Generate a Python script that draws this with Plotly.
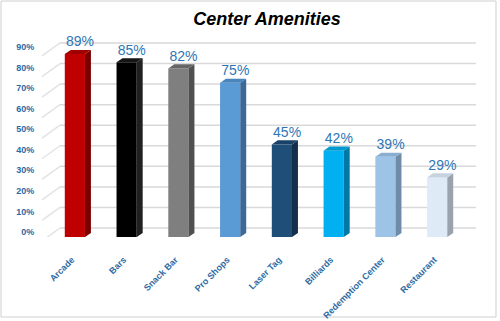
import plotly.graph_objects as go

categories = ["Arcade", "Bars", "Snack Bar", "Pro Shops", "Laser Tag", "Billiards",
              "Redemption Center", "Restaurant"]
values = [0.89, 0.85, 0.82, 0.75, 0.45, 0.42, 0.39, 0.29]
labels = ["89%", "85%", "82%", "75%", "45%", "42%", "39%", "29%"]
front_colors = ["#C00000", "#000000", "#7F7F7F", "#5B9BD5", "#1F4E79", "#00B0F0", "#9DC3E6", "#DEEBF7"]
side_colors = ["#7A0000", "#202020", "#505050", "#3B6A98", "#132F4C", "#0079A6", "#6E8CA8", "#9AA3AD"]
top_colors = ["#A00000", "#151515", "#666666", "#4A84BC", "#1A4268", "#0099D0", "#8AAED0", "#C5D3E0"]
y_ticks = [0, 0.1, 0.2, 0.3, 0.4, 0.5, 0.6, 0.7, 0.8, 0.9]
y_tick_text = ["0%", "10%", "20%", "30%", "40%", "50%", "60%", "70%", "80%", "90%"]

W, H = 500, 321
ML, MR, MT, MB = 49, 24, 40, 84
bar_w = 0.39
dx = 0.115
dy = 0.02
label_blue = "#2E75B6"
axis_blue = "#2C6AA3"

x = list(range(len(categories)))
fig = go.Figure()
fig.add_trace(go.Bar(x=x, y=values, width=bar_w, marker=dict(color=front_colors, line=dict(width=0)),
                     hoverinfo="skip", showlegend=False))

for i, v in enumerate(values):
    r = i + bar_w / 2
    l = i - bar_w / 2
    # side face
    fig.add_trace(go.Scatter(x=[r, r + dx, r + dx, r, r], y=[0, dy, v + dy, v, 0],
                             mode="lines", fill="toself", fillcolor=side_colors[i],
                             line=dict(width=0, color=side_colors[i]), hoverinfo="skip", showlegend=False))
    # top face
    fig.add_trace(go.Scatter(x=[l, r, r + dx, l + dx, l], y=[v, v, v + dy, v + dy, v],
                             mode="lines", fill="toself", fillcolor=top_colors[i],
                             line=dict(width=0, color=top_colors[i]), hoverinfo="skip", showlegend=False))

fig.add_trace(go.Scatter(x=[i + 0.1 for i in x], y=[v + dy for v in values], mode="text",
                         text=labels, textposition="top center",
                         textfont=dict(size=14, color=label_blue, family="Liberation Sans, Arial"),
                         hoverinfo="skip", showlegend=False, cliponaxis=False))

plot_w = W - ML - MR
plot_h = H - MT - MB
shapes = []
grid_x0 = (60 - ML) / plot_w
for t in y_ticks:
    shapes.append(dict(type="line", xref="paper", yref="y", ysizemode="pixel", yanchor=t,
                       x0=grid_x0, x1=1, y0=9, y1=9, line=dict(color="#D9D9D9", width=1.5), layer="below"))
    shapes.append(dict(type="line", xref="paper", yref="y", ysizemode="pixel", yanchor=t,
                       x0=(42 - ML) / plot_w, x1=grid_x0, y0=-4, y1=9,
                       line=dict(color="#E3E3E3", width=1.5), layer="below"))
shapes.append(dict(type="rect", xref="paper", yref="paper",
                   x0=(1 - ML) / plot_w, x1=(496 - ML) / plot_w,
                   y0=-(MB - 4) / plot_h, y1=1 + (MT - 1) / plot_h,
                   line=dict(color="#CFCFCF", width=1), fillcolor="rgba(0,0,0,0)", layer="below"))

fig.update_layout(
    width=W, height=H,
    margin=dict(l=ML, r=MR, t=MT, b=MB),
    paper_bgcolor="white", plot_bgcolor="white",
    font=dict(family="Liberation Sans, Arial"),
    title=dict(text="<b><i>Center Amenities</i></b>", x=267 / W, xanchor="center",
               y=1 - 19 / H, yanchor="middle", yref="container",
               font=dict(size=18, color="black", family="Liberation Sans, Arial")),
    barmode="overlay",
    showlegend=False,
    shapes=shapes,
    xaxis=dict(range=[-0.5, 7.75], tickmode="array", tickvals=x, ticktext=categories,
               tickangle=-45, showgrid=False, zeroline=False, showline=False, automargin=False,
               ticks="outside", ticklen=13, tickcolor="rgba(0,0,0,0)", ticklabelshift=-3,
               tickfont=dict(size=9, color=axis_blue, family="Liberation Sans, Arial", weight="bold")),
    yaxis=dict(range=[0, (237 - MT) / 205.6], tickmode="array", tickvals=y_ticks, ticktext=y_tick_text,
               showgrid=False, zeroline=False, showline=False, ticklabelshift=-5, automargin=False,
               ticks="outside", ticklen=12, tickcolor="rgba(0,0,0,0)",
               tickfont=dict(size=9, color=axis_blue, family="Liberation Sans, Arial", weight="bold")),
)

fig.write_html("out.html")
